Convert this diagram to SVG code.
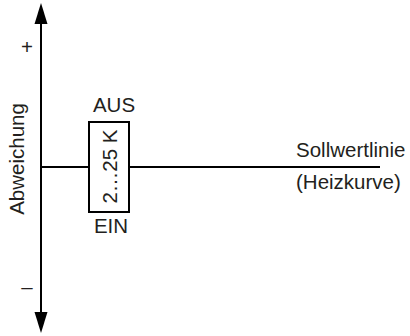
<svg xmlns="http://www.w3.org/2000/svg" width="410" height="336" viewBox="0 0 410 336">
<style>
text{font-family:"Liberation Sans",Arial,sans-serif;font-size:20.5px;fill:#231f20}
.ln{stroke:#000;stroke-width:2;fill:none}
.ah{fill:#000}
</style>
<rect width="410" height="336" fill="#fff"/>
<g id="connectors">
<line class="ln" x1="41" y1="20" x2="41" y2="316"/>
<polygon class="ah" points="41,3 34.5,24 47.5,24"/>
<polygon class="ah" points="41,333 34.5,312 47.5,312"/>
<line class="ln" x1="41" y1="167" x2="89" y2="167"/>
<line class="ln" x1="129" y1="167" x2="380" y2="167"/>
</g>
<g id="axis-labels">
<text x="27" y="54" text-anchor="middle">+</text>
<text x="27" y="294" text-anchor="middle">–</text>
<text transform="translate(24,159) rotate(-90)" text-anchor="middle">Abweichung</text>
</g>
<g id="hysteresis">
<rect x="89" y="122" width="40" height="90" fill="#fff" stroke="#000" stroke-width="2"/>
<text transform="translate(117,166.5) rotate(-90)" text-anchor="middle">2…25 K</text>
<text x="114" y="112" text-anchor="middle">AUS</text>
<text x="111" y="233" text-anchor="middle">EIN</text>
</g>
<g id="setpoint">
<text x="296" y="157">Sollwertlinie</text>
<text x="296" y="189">(Heizkurve)</text>
</g>
</svg>
